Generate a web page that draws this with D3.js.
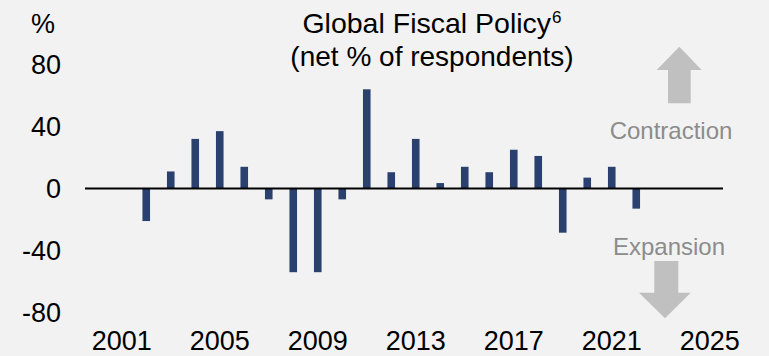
<!DOCTYPE html>
<html>
<head>
<meta charset="utf-8">
<script src="https://cdn.jsdelivr.net/npm/d3@7"></script>
<style>
  html, body { margin: 0; padding: 0; background: #f2f2f2; }
  svg { display: block; font-family: "Liberation Sans", Arial, sans-serif; }
</style>
</head>
<body>
<svg id="chart" width="769" height="356"></svg>
<script>
// ---- data ----
const years = d3.range(2000, 2026);
const dataYears = [2002, 2003, 2004, 2005, 2006, 2007, 2008, 2009, 2010, 2011, 2012,
                   2013, 2014, 2015, 2016, 2017, 2018, 2019, 2020, 2021, 2022];
const netPct   = [-21, 11, 32, 37, 14, -7, -54, -54, -7, 64, 10.5,
                   32, 3.5, 14, 10.5, 25, 21, -28.5, 7, 14, -13];
const yTicks = [80, 40, 0, -40, -80];
const xTickYears = [2001, 2005, 2009, 2013, 2017, 2021, 2025];
const titleLine1 = "Global Fiscal Policy";
const titleSup = "6";
const titleLine2 = "(net % of respondents)";
const unitLabel = "%";
const upLabel = "Contraction";
const downLabel = "Expansion";

// ---- layout ----
const svg = d3.select("#chart");
const W = 769, H = 356;
svg.append("rect").attr("width", W).attr("height", H).attr("fill", "#f2f2f2");

const x = d3.scaleBand().domain(years).range([85, 722]).paddingInner(0.69).paddingOuter(0.345);
const y = d3.scaleLinear().domain([-80, 80]).range([312.5, 64.5]);

const barColor = "#2a406e";
const fs = 27;

// bars
const rows = dataYears.map((yr, i) => ({ year: yr, v: netPct[i] }));
svg.append("g").selectAll("rect").data(rows).join("rect")
  .attr("x", d => x(d.year))
  .attr("width", x.bandwidth())
  .attr("y", d => y(Math.max(0, d.v)))
  .attr("height", d => Math.abs(y(d.v) - y(0)))
  .attr("fill", barColor);

// zero line
svg.append("line")
  .attr("x1", 85).attr("x2", 723)
  .attr("y1", y(0)).attr("y2", y(0))
  .attr("stroke", "#000").attr("stroke-width", 2);

// y tick labels
svg.append("g").selectAll("text").data(yTicks).join("text")
  .attr("x", 61).attr("y", d => y(d))
  .attr("dy", "0.36em")
  .attr("text-anchor", "end")
  .attr("font-size", fs).attr("fill", "#000")
  .text(d => d);

svg.append("text").attr("x", 43).attr("y", 33)
  .attr("text-anchor", "middle").attr("font-size", fs).attr("fill", "#000")
  .text(unitLabel);

// x tick labels
svg.append("g").selectAll("text").data(xTickYears).join("text")
  .attr("x", d => x(d) + x.bandwidth() / 2).attr("y", 350)
  .attr("text-anchor", "middle")
  .attr("font-size", fs).attr("fill", "#000")
  .text(d => d);

// title
const t1 = svg.append("text").attr("x", 432).attr("y", 33)
  .attr("text-anchor", "middle").attr("font-size", 28.5).attr("fill", "#000");
t1.append("tspan").text(titleLine1);
t1.append("tspan").attr("font-size", 17).attr("dx", 1).attr("dy", -10).text(titleSup);
svg.append("text").attr("x", 432).attr("y", 66)
  .attr("text-anchor", "middle").attr("font-size", 28).attr("fill", "#000")
  .text(titleLine2);

// contraction / expansion labels and arrows
const grayText = "#8c8c8c", grayArrow = "#c0c0c0";
svg.append("text").attr("x", 671).attr("y", 138.5)
  .attr("text-anchor", "middle").attr("font-size", 24).attr("fill", grayText)
  .text(upLabel);
svg.append("text").attr("x", 669).attr("y", 255)
  .attr("text-anchor", "middle").attr("font-size", 24).attr("fill", grayText)
  .text(downLabel);

const upArrow = [[679.3, 46.7], [701.7, 70], [690.7, 70], [690.7, 103.3],
                 [668, 103.3], [668, 70], [656.7, 70]];
const downArrow = [[654.3, 261], [678.3, 261], [678.3, 292.7], [690.7, 292.7],
                   [665, 318.3], [639, 292.7], [654.3, 292.7]];
const line = d3.line();
svg.append("path").attr("d", line(upArrow) + "Z").attr("fill", grayArrow);
svg.append("path").attr("d", line(downArrow) + "Z").attr("fill", grayArrow);
</script>
</body>
</html>
